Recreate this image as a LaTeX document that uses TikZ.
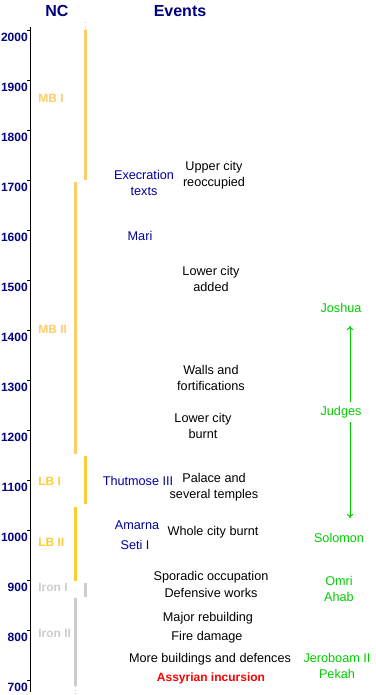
\documentclass[tikz,border=0pt]{standalone}
\usepackage{fontspec}
\setmainfont{Liberation Sans}
\usetikzlibrary{arrows.meta}

\tikzset{
  head/.style={inner sep=0, color={rgb, 255:red, 0; green, 0; blue, 128 }, font=\fontsize{12}{14}\selectfont\bfseries},
  yearlbl/.style={anchor=east, inner sep=0, color={rgb, 255:red, 0; green, 0; blue, 128 }, font=\fontsize{9}{11}\selectfont\bfseries},
  mblbl/.style={anchor=west, inner sep=0, color={rgb, 255:red, 255; green, 204; blue, 102 }, font=\fontsize{9}{11}\selectfont\bfseries},
  lblbl/.style={anchor=west, inner sep=0, color={rgb, 255:red, 255; green, 204; blue, 51 }, font=\fontsize{9}{11}\selectfont\bfseries},
  ironlbl/.style={anchor=west, inner sep=0, color={rgb, 255:red, 204; green, 204; blue, 204 }, font=\fontsize{9}{11}\selectfont\bfseries},
  event/.style={inner sep=0, align=center, font=\fontsize{9.5}{12}\selectfont},
  source/.style={event, color={rgb, 255:red, 0; green, 0; blue, 153 }},
  bible/.style={event, color={rgb, 255:red, 0; green, 204; blue, 0 }},
  alarm/.style={event, color={rgb, 255:red, 255; green, 0; blue, 0 }, font=\fontsize{9}{12}\selectfont\bfseries},
  bar/.style={line width=2.25pt},
  barend/.style={line width=0.75pt, dotted},
  arr/.style={color={rgb, 255:red, 0; green, 204; blue, 0 }, line width=0.75pt, -{To[length=3pt,width=5pt]}}
}

\begin{document}
\begin{tikzpicture}[x=0.75pt,y=0.75pt,yscale=-1,xscale=1]
\useasboundingbox (0,0) rectangle (375,695);

%Headings
\node [head] (nc) at (57,11) {NC};
\node [head] (events) at (180,11) {Events};

%Straight Lines: time axis
\draw [line width=0.75pt] (30,27) -- (30,692) ;
\draw (27,30) -- (30,30) ;
\draw (27,80) -- (30,80) ;
\draw (27,130) -- (30,130) ;
\draw (27,180) -- (30,180) ;
\draw (27,230) -- (30,230) ;
\draw (27,280) -- (30,280) ;
\draw (27,330) -- (30,330) ;
\draw (27,380) -- (30,380) ;
\draw (27,430) -- (30,430) ;
\draw (27,480) -- (30,480) ;
\draw (27,530) -- (30,530) ;
\draw (27,580) -- (30,580) ;
\draw (27,630) -- (30,630) ;
\draw (27,680) -- (30,680) ;

%Text Node: years
\node [yearlbl] (y2000) at (28,37) {2000};
\node [yearlbl] (y1900) at (28,87) {1900};
\node [yearlbl] (y1800) at (28,137) {1800};
\node [yearlbl] (y1700) at (28,187) {1700};
\node [yearlbl] (y1600) at (28,237) {1600};
\node [yearlbl] (y1500) at (28,287) {1500};
\node [yearlbl] (y1400) at (28,337) {1400};
\node [yearlbl] (y1300) at (28,387) {1300};
\node [yearlbl] (y1200) at (28,437) {1200};
\node [yearlbl] (y1100) at (28,487) {1100};
\node [yearlbl] (y1000) at (28,537) {1000};
\node [yearlbl] (y900) at (28,587) {900};
\node [yearlbl] (y800) at (28,637) {800};
\node [yearlbl] (y700) at (28,687) {700};

%Straight Lines: periods
\draw [barend, color={rgb, 255:red, 255; green, 204; blue, 102 }] (85,22) -- (85,30) ;
\draw [bar, color={rgb, 255:red, 255; green, 204; blue, 102 }] (85,30) -- (85,180) ;
\draw [bar, color={rgb, 255:red, 255; green, 204; blue, 102 }] (75,182) -- (75,454) ;
\draw [bar, color={rgb, 255:red, 255; green, 204; blue, 51 }] (85,456) -- (85,504) ;
\draw [bar, color={rgb, 255:red, 255; green, 204; blue, 51 }] (75,507) -- (75,581) ;
\draw [bar, color={rgb, 255:red, 204; green, 204; blue, 204 }] (85,583) -- (85,597) ;
\draw [bar, color={rgb, 255:red, 204; green, 204; blue, 204 }] (75,598) -- (75,686) ;
\draw [barend, color={rgb, 255:red, 204; green, 204; blue, 204 }] (75,686) -- (75,695) ;

%Text Node: periods
\node [mblbl] (mbi) at (38,98) {MB I};
\node [mblbl] (mbii) at (38,329) {MB II};
\node [lblbl] (lbi) at (38,481) {LB I};
\node [lblbl] (lbii) at (38,542) {LB II};
\node [ironlbl] (ironi) at (38,587) {Iron I};
\node [ironlbl] (ironii) at (38,633) {Iron II};

%Text Node: sources
\node [source] (execration) at (144,183) {Execration\\texts};
\node [source] (mari) at (140,236) {Mari};
\node [source] (thutmose) at (138,481) {Thutmose III};
\node [source] (amarna) at (137,525) {Amarna};
\node [source] (seti) at (135,545) {Seti I};

%Text Node: events
\node [event] (upper) at (214,175) {Upper city\\reoccupied};
\node [event] (lowadded) at (211,279) {Lower city\\added};
\node [event] (walls) at (211,378) {Walls and\\fortifications};
\node [event] (lowburnt) at (203,426) {Lower city\\burnt};
\node [event] (palace) at (214,487) {Palace and\\several temples};
\node [event] (wholeburnt) at (213,532) {Whole city burnt};
\node [event] (sporadic) at (211,577) {Sporadic occupation};
\node [event] (defensive) at (211,593) {Defensive works};
\node [event] (rebuild) at (208,618) {Major rebuilding};
\node [event] (fire) at (207,637) {Fire damage};
\node [event] (more) at (210,659) {More buildings and defences};
\node [alarm] (assyrian) at (211,678) {Assyrian incursion};

%Text Node: Israel
\node [bible] (joshua) at (341,308) {Joshua};
\node [bible] (judges) at (341,412) {Judges};
\node [bible] (solomon) at (339,538) {Solomon};
\node [bible] (omri) at (339,589) {Omri\\Ahab};
\node [bible] (jeroboam) at (337,666) {Jeroboam II\\Pekah};

%Straight Lines: judges span
\coordinate (upend) at (350,326) ;
\coordinate (downend) at (350,518) ;
\draw [arr] (judges.north -| upend) ++(0,-4) -- (upend) ;
\draw [arr] (judges.south -| downend) ++(0,4) -- (downend) ;

\end{tikzpicture}
\end{document}
